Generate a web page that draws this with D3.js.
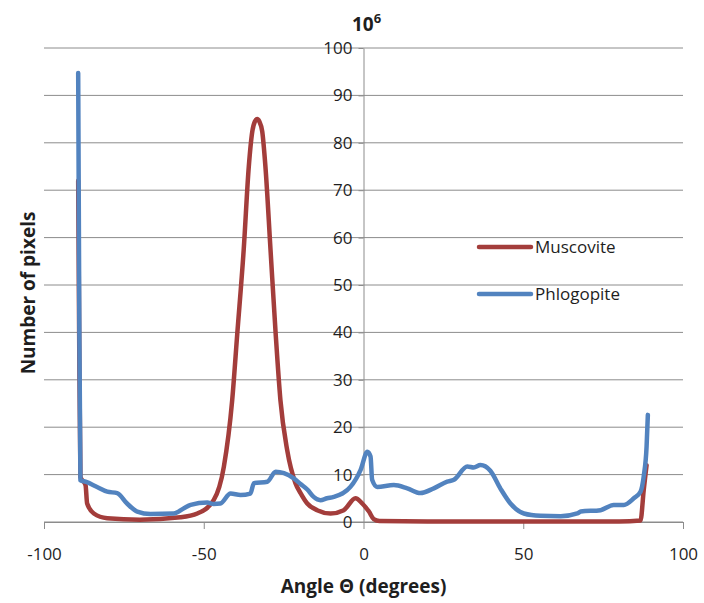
<!DOCTYPE html>
<html>
<head>
<meta charset="utf-8">
<script src="https://cdn.jsdelivr.net/npm/d3@7"></script>
<style>
  body { margin: 0; background: #fff; }
  text { font-family: "Open Sans", "DejaVu Sans", sans-serif; fill: #1e1e1e; }
</style>
</head>
<body>
<div id="graph-container"></div>
<script>
// Angle (degrees) and pixel counts (x10^6)
const muscoviteAngle = [-89.3, -89.0, -88.6, -87.0, -86.5, -84.4, -80.2, -70, -57.3, -52, -46.9, -43.7,
  -41.1, -39.5, -37.5, -35.9, -34.8, -34.0, -33.3, -32.6, -31.7, -30.7, -29.1, -27.5, -26, -23.9, -21.3,
  -19.7, -17.6, -14.5, -10.3, -6.2, -2.5, -0.4, 1.7, 3.2, 5, 20, 40, 60, 80, 86.7, 87.7, 88.3, 88.6];
const muscoviteCount = [72, 40, 9.5, 7.8, 3.9, 1.8, 0.8, 0.5, 1.0, 1.8, 4.6, 11.7,
  25.7, 39.8, 57.4, 75, 82.4, 84.5, 85, 84.5, 82.4, 75, 57.4, 39.8, 25.7, 15.2, 8.2,
  6.1, 3.9, 2.5, 1.8, 2.5, 5.0, 3.9, 2.2, 0.6, 0.2, 0.1, 0.1, 0.1, 0.1, 0.3, 6.7, 10.3, 12];

const phlogopiteAngle = [-89.3, -89.0, -88.6, -87.0, -83.4, -80.2, -77.1, -74, -70.8, -66.7, -59.4, -56.2,
  -54.1, -48.9, -46.9, -44.8, -41.6, -38.5, -35.4, -34.3, -30.1, -27.5, -24.9, -21.8, -19.7, -17.5, -15.6,
  -13.5, -11.4, -9.3, -4.1, -0.9, 1.2, 2.2, 2.7, 4.3, 9.5, 13.7, 17.8, 22, 26.2, 28.3, 32.5, 34.5, 36.6,
  39.7, 42.9, 46, 50.2, 55.4, 61.7, 66.9, 68, 74.2, 78.3, 81.5, 84.6, 86.7, 87.7, 88.6, 89];
const phlogopiteCount = [94.7, 50, 8.8, 8.5, 7.4, 6.4, 6.1, 3.9, 2.2, 1.7, 1.8, 2.9,
  3.6, 4.1, 3.8, 3.9, 6.0, 5.7, 6.0, 8.2, 8.5, 10.6, 10.3, 9.2, 8.0, 6.8, 5.3,
  4.6, 5.0, 5.3, 7.4, 11, 14.8, 13.8, 8.9, 7.4, 7.8, 7.1, 6.1, 7.1, 8.5, 8.9, 11.7, 11.5, 12.0,
  10.8, 7.0, 3.9, 1.8, 1.3, 1.2, 1.8, 2.2, 2.5, 3.6, 3.6, 5.0, 6.4, 9.6, 15.9, 22.6];

const xTicks = [-100, -50, 0, 50, 100];
const yTicks = [0, 10, 20, 30, 40, 50, 60, 70, 80, 90, 100];
const seriesNames = ['Muscovite', 'Phlogopite'];
const seriesColors = ['#A33D3B', '#5283BF'];

const width = 704;
const height = 603;
const margin = {top: 48, right: 21, bottom: 81, left: 44};

const svg = d3.select('#graph-container')
  .append('svg')
  .attr('width', width)
  .attr('height', height);

const xScale = d3.scaleLinear()
  .domain([-100, 100])
  .range([margin.left, width - margin.right]);

const yScale = d3.scaleLinear()
  .domain([0, 100])
  .range([height - margin.bottom, margin.top]);

// Gridlines
svg.append('g')
  .selectAll('line')
  .data(yTicks)
  .join('line')
  .attr('x1', xScale(-100))
  .attr('x2', xScale(100))
  .attr('y1', d => yScale(d))
  .attr('y2', d => yScale(d))
  .attr('stroke', '#8c8c8c')
  .attr('stroke-width', 1);

// X axis
const xAxis = d3.axisBottom(xScale)
  .tickValues(xTicks)
  .tickSizeInner(7)
  .tickSizeOuter(0)
  .tickPadding(15)
  .tickFormat(d => String(d));

const gx = svg.append('g')
  .attr('transform', `translate(0,${yScale(0)})`)
  .call(xAxis);
gx.select('.domain').attr('stroke', '#8c8c8c');
gx.selectAll('.tick line').attr('stroke', '#8c8c8c');
gx.selectAll('.tick text')
  .style('font-size', '17px')
  .attr('fill', '#1e1e1e')
  .attr('dy', '0.95em');

// Y axis at x = 0
const yAxis = d3.axisLeft(yScale)
  .tickValues(yTicks)
  .tickSizeInner(5)
  .tickSizeOuter(0)
  .tickPadding(6);

const gy = svg.append('g')
  .attr('transform', `translate(${xScale(0)},0)`)
  .call(yAxis);
gy.select('.domain').attr('stroke', '#8c8c8c');
gy.selectAll('.tick line').attr('stroke', '#8c8c8c');
gy.selectAll('.tick text')
  .style('font-size', '17px')
  .attr('fill', '#1e1e1e');

// Lines
const lineFunction = d3.line()
  .x(d => xScale(d[0]))
  .y(d => yScale(d[1]))
  .curve(d3.curveMonotoneX);

const series = [
  d3.zip(muscoviteAngle, muscoviteCount),
  d3.zip(phlogopiteAngle, phlogopiteCount),
];

series.forEach((pts, i) => {
  svg.append('path')
    .attr('d', lineFunction(pts))
    .attr('stroke', seriesColors[i])
    .attr('stroke-width', 4.5)
    .attr('stroke-linejoin', 'round')
    .attr('stroke-linecap', 'round')
    .attr('fill', 'none');
});

// Legend
const legend = svg.append('g')
  .attr('transform', 'translate(479,247)');
seriesNames.forEach((name, i) => {
  legend.append('line')
    .attr('x1', 0)
    .attr('x2', 52)
    .attr('y1', i * 47)
    .attr('y2', i * 47)
    .attr('stroke', seriesColors[i])
    .attr('stroke-width', 4.5)
    .attr('stroke-linecap', 'round');
  legend.append('text')
    .attr('x', 56)
    .attr('y', i * 47)
    .attr('dy', '0.35em')
    .style('font-size', '17px')
    .text(name);
});

// Title 10^6
const title = svg.append('text')
  .attr('x', 352)
  .attr('y', 31)
  .style('font-size', '19px')
  .style('font-weight', 'bold');
title.append('tspan').text('10');
title.append('tspan')
  .attr('dy', -8)
  .style('font-size', '13px')
  .text('6');

// Axis titles
svg.append('text')
  .attr('transform', `translate(28,${(yScale(0) + yScale(100)) / 2 + 8}) rotate(-90)`)
  .attr('text-anchor', 'middle')
  .attr('dy', '0.35em')
  .style('font-size', '19px')
  .style('font-weight', 'bold')
  .text('Number of pixels');

svg.append('text')
  .attr('x', xScale(0))
  .attr('y', 586)
  .attr('text-anchor', 'middle')
  .attr('dy', '0.35em')
  .style('font-size', '19px')
  .style('font-weight', 'bold')
  .text('Angle Θ (degrees)');
</script>
</body>
</html>
